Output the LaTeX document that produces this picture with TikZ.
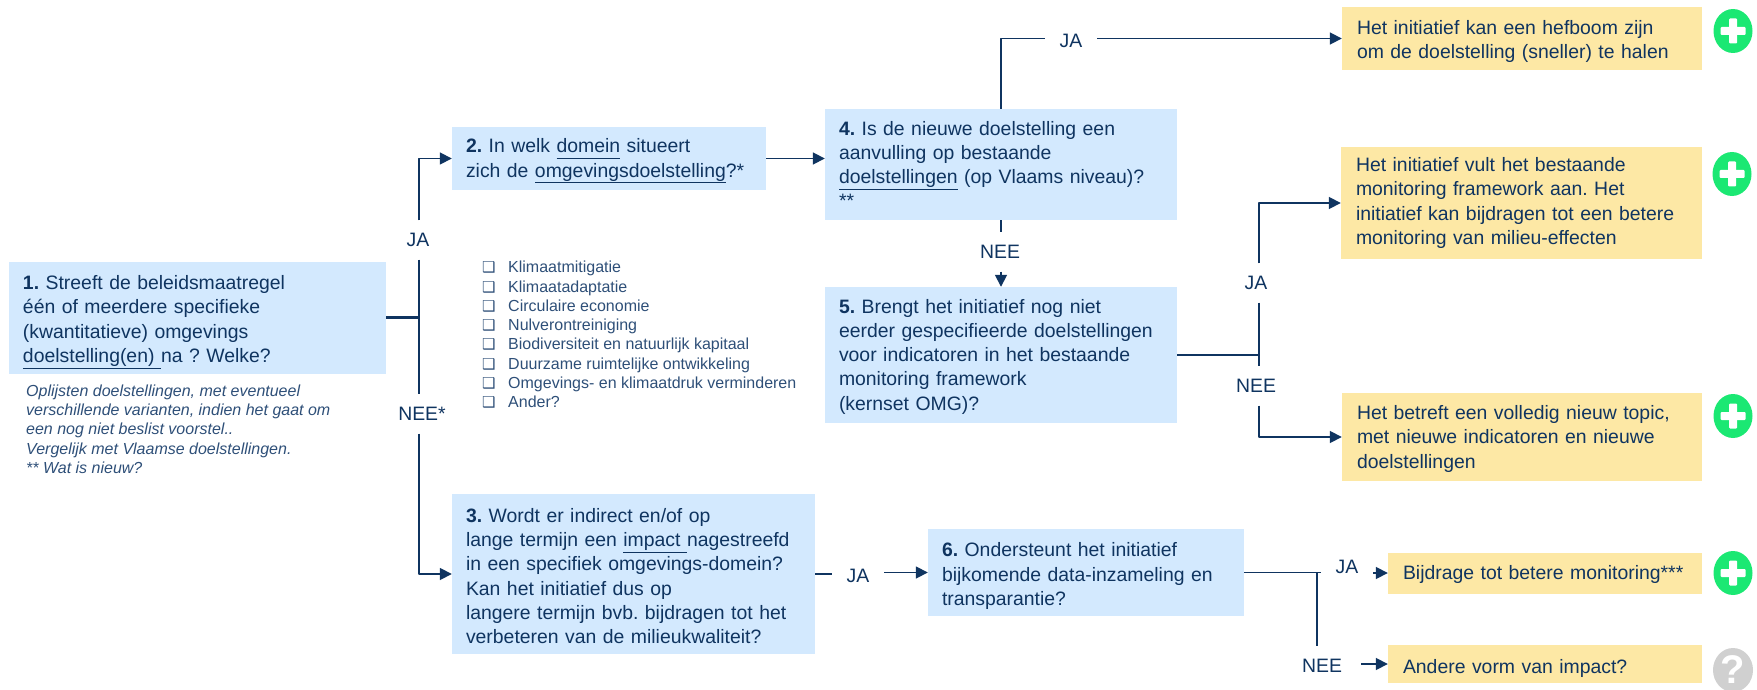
\documentclass[tikz,border=0pt]{standalone}
\usepackage{fontspec}
\setmainfont{Liberation Sans}
\newfontfamily\symbfont{DejaVu Sans}
\usetikzlibrary{arrows.meta,shapes.geometric}
\frenchspacing

\definecolor{navy}{HTML}{0F3460}
\definecolor{notecol}{HTML}{2E4F78}
\definecolor{qblue}{HTML}{D3E9FE}
\definecolor{ansyellow}{HTML}{FDE8A5}
\definecolor{okgreen}{HTML}{1BE873}
\definecolor{unkgray}{HTML}{D0D0D0}

\newcommand{\ondl}[1]{\underline{#1\vphantom{g}}}
\newcommand{\chk}{\makebox[26pt][l]{\symbfont\fontsize{15}{19}\selectfont ❑}}

\begin{document}
\begin{tikzpicture}[
    x = 1pt,
    y = -1pt,
    line join=round,
    textstyle/.style = {text=navy, font=\fontsize{19.4}{24.3}\selectfont, align=left},
    textdown/.style = {execute at begin node={\rule{0pt}{\dimexpr14.3pt+#1\relax}}},
    qbox/.style = {textstyle, fill=qblue, inner xsep=14pt, inner ysep=0pt},
    ansbox/.style = {textstyle, fill=ansyellow, inner xsep=15pt, inner ysep=0pt},
    tag/.style = {text=navy, font=\fontsize{19.4}{20}\selectfont, inner sep=0pt,
        minimum width=52pt, minimum height=39pt},
    link/.style = {navy, line width=1.7pt},
    linkarrow/.style = {link, -{Triangle[length=12pt,width=12pt]}},
    okdot/.style = {ellipse, fill=okgreen, minimum width=39pt, minimum height=44pt, inner sep=0pt,
        path picture={
            \fill[white, rounded corners=1pt] (path picture bounding box.center) ++(-12.5,-4) rectangle ++(25,8);
            \fill[white, rounded corners=1pt] (path picture bounding box.center) ++(-4,-12.5) rectangle ++(8,25);
        }},
    unkdot/.style = {ellipse, fill=unkgray, minimum width=40pt, minimum height=44pt, inner sep=0pt, text=white,
        font=\fontsize{40}{40}\bfseries\selectfont}
]

\useasboundingbox (0,0) rectangle (1757,690);

% questions
\node[qbox, textdown=8pt, text width=349pt, minimum height=112pt] (box1) at (197.5,318)
    {\textbf{1.} Streeft de beleidsmaatregel\\één of meerdere specifieke\\(kwantitatieve) omgevings\\\ondl{doelstelling(en) }na ? Welke?};
\node[qbox, textdown=4.5pt, text width=286pt, minimum height=63pt] (box2) at (609,158.5)
    {\textbf{2.} In welk \ondl{domein} situeert\\zich de \ondl{omgevingsdoelstelling}?*};
\node[qbox, textdown=4pt, text width=335pt, minimum height=160pt] (box3) at (633.5,574)
    {\textbf{3.} Wordt er indirect en/of op\\lange termijn een \ondl{impact }nagestreefd\\in een specifiek omgevings-domein?\\Kan het initiatief dus op\\langere termijn bvb. bijdragen tot het\\verbeteren van de milieukwaliteit?};
\node[qbox, text width=324pt, minimum height=111pt] (box4) at (1001,164.5)
    {\textbf{4.} Is de nieuwe doelstelling een\\aanvulling op bestaande\\\ondl{doelstellingen} (op Vlaams niveau)?\\{}**};
\node[qbox, textdown=3pt, text width=324pt, minimum height=136pt] (box5) at (1001,355)
    {\textbf{5.} Brengt het initiatief  nog niet\\eerder gespecifieerde doelstellingen\\voor indicatoren in het bestaande\\monitoring framework\\(kernset OMG)?};
\node[qbox, textdown=7pt, text width=288pt, minimum height=87pt] (box6) at (1086,572.5)
    {\textbf{6.} Ondersteunt het initiatief\\bijkomende data-inzameling en\\transparantie?};

% answers
\node[ansbox, textdown=5.5pt, text width=330pt, minimum height=63pt] (ansa) at (1522,38.5)
    {Het initiatief kan een hefboom zijn\\om de doelstelling (sneller) te halen};
\node[ansbox, text width=331pt, minimum height=111pt] (ansb) at (1521.5,203)
    {Het initiatief vult het bestaande\\monitoring framework aan. Het\\initiatief kan bijdragen tot een betere\\monitoring van milieu-effecten};
\node[ansbox, textdown=3.5pt, text width=330pt, minimum height=88pt] (ansc) at (1522,437)
    {Het betreft een volledig nieuw topic,\\met nieuwe indicatoren en nieuwe\\doelstellingen};
\node[ansbox, textdown=2pt, text width=284pt, minimum height=41pt] (ansd) at (1545,573)
    {Bijdrage tot betere monitoring***};
\node[ansbox, textdown=9pt, text width=284pt, minimum height=38pt] (anse) at (1545,664)
    {Andere vorm van impact?};

\node[okdot] (plusa) at (1733,31) {};
\node[okdot] (plusb) at (1732,174) {};
\node[okdot] (plusc) at (1733,416) {};
\node[okdot] (plusd) at (1733,573) {};
\node[unkdot] (vraag) at (1733,670) {?};

% free texts
\node[anchor=north west, inner sep=0pt, text=notecol, align=left,
    font=\fontsize{16}{19.3}\itshape\selectfont] (noot) at (26,384.5)
    {Oplijsten doelstellingen, met eventueel\\verschillende varianten, indien het gaat om\\een nog niet beslist voorstel..\\Vergelijk met Vlaamse doelstellingen.\\** Wat is nieuw?};
\node[anchor=north west, inner sep=0pt, text=notecol, align=left,
    font=\fontsize{16}{19.3}\selectfont] (domeinen) at (482,261)
    {\chk Klimaatmitigatie\\\chk Klimaatadaptatie\\\chk Circulaire economie\\\chk Nulverontreiniging\\\chk Biodiversiteit en natuurlijk kapitaal\\\chk Duurzame ruimtelijke ontwikkeling\\\chk Omgevings- en klimaatdruk verminderen\\\chk Ander?};

% labels
\node[tag] (ja1) at (418,240) {JA};
\node[tag] (nee1) at (422,414) {NEE*};
\node[tag] (ja2) at (1071,41) {JA};
\node[tag] (nee2) at (1000,252) {NEE};
\node[tag] (ja3) at (1256,283) {JA};
\node[tag] (nee3) at (1256,386) {NEE};
\node[tag] (ja4) at (858,576) {JA};
\node[tag] (ja5) at (1347,567) {JA};
\node[tag, minimum width=78pt] (nee4) at (1322,666) {NEE};

% branch points
\coordinate (split1) at (419,317);
\coordinate (split5) at (1259,355);
\coordinate (split6) at (1317,573);
\coordinate (end6) at (1321,573);

% connectors
\draw[navy, line width=3pt] (box1.east |- split1) -- (split1);
\draw[link] (split1 |- ja1.south) -- (split1 |- nee1.north);
\draw[linkarrow] (split1 |- ja1.north) |- (box2.west);
\draw[linkarrow] (split1 |- nee1.south) |- (box3.west);
\draw[linkarrow] (box2.east) -- (box2.east -| box4.west);

\draw[link] (box4.north) |- (ja2.west |- ansa.west);
\draw[linkarrow] (ja2.east |- ansa.west) -- (ansa.west);
\draw[link] (box4.south) -- (box4.south |- nee2.north);
\draw[linkarrow] (box4.south |- nee2.south) -- (box5.north);

\draw[link] (box5.east) -- (split5);
\draw[link] (split5 |- ja3.south) -- (split5 |- nee3.north);
\draw[linkarrow] (split5 |- ja3.north) |- (ansb.west);
\draw[linkarrow] (split5 |- nee3.south) |- (ansc.west);

\draw[link] (box3.east) -- (ja4.west |- box3.east);
\draw[linkarrow] (ja4.east |- box6.west) -- (box6.west);

\draw[link] (box6.east) -- (box6.east -| end6);
\draw[link] (split6) -- (split6 |- nee4.north);
\draw[linkarrow] (ja5.east |- ansd.west) -- (ansd.west);
\draw[linkarrow] (nee4.east |- anse.west) -- (anse.west);
\end{tikzpicture}
\end{document}
